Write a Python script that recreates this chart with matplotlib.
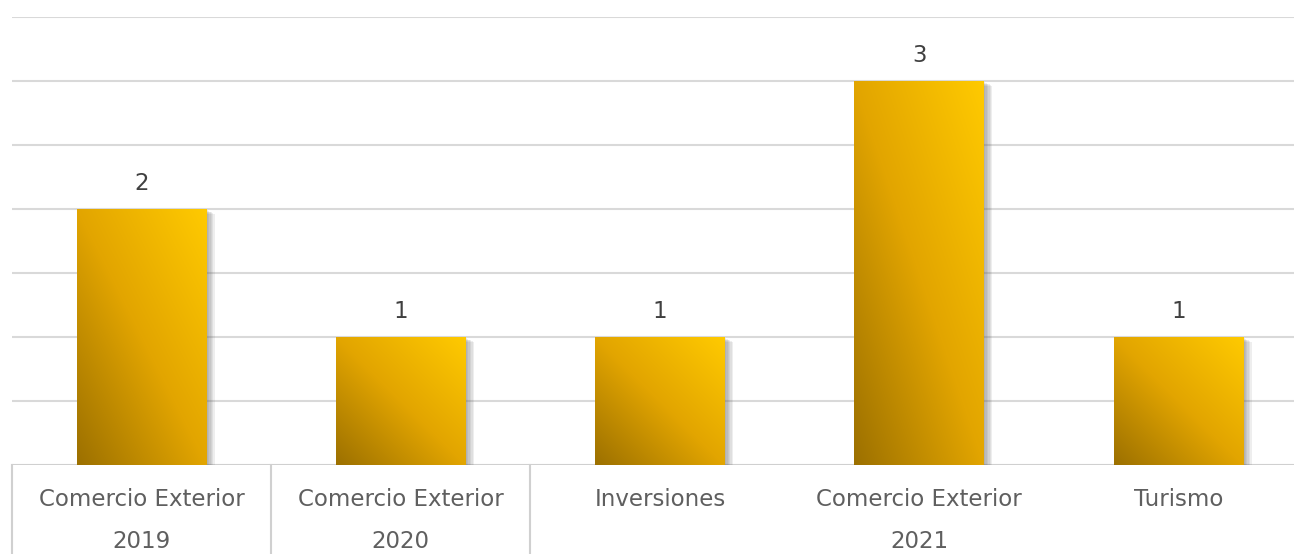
import numpy as np
import matplotlib.pyplot as plt
from matplotlib.colors import LinearSegmentedColormap
import matplotlib.patheffects as pe

# Data
categories = ['Comercio Exterior', 'Comercio Exterior', 'Inversiones', 'Comercio Exterior', 'Turismo']
years = ['2019', '2020', '2021']
year_groups = [1, 1, 3]  # number of categories per year
values = [2, 1, 1, 3, 1]

plt.rcParams['font.family'] = ['DejaVu Sans']

fig = plt.figure(figsize=(12.94, 5.54), dpi=100)
W, H = 1294, 554
# plot area: x from 12px, category width ~259px (right edge cropped), y 0 at 465px, 3.5 at 17px
ax = fig.add_axes([12 / W, (H - 465) / H, 1296 / W, (465 - 17) / H])

for y in np.arange(0.5, 3.51, 0.5):
    ax.axhline(y, color='#d9d9d9', lw=1.5, zorder=0)
ax.axhline(0, color='#d0d0d0', lw=1.5, zorder=0)

cmap = LinearSegmentedColormap.from_list('gold', ['#9c7000', '#e2a500', '#ffca00'])
grad = np.add.outer(np.linspace(0, 1, 200), np.linspace(0, 1, 200)) / 2  # rows: bottom->top

# soft shadow: several faint offset layers
shadow = [pe.SimplePatchShadow(offset=(d, -d * 0.6), shadow_rgbFace='#606060', alpha=0.1)
          for d in (1, 2, 3, 4, 5, 6)]

bw = 0.5
xs = np.arange(len(values)) + 0.5
bars = ax.bar(xs, values, width=bw, color='#e0a400', zorder=2,
              path_effects=shadow + [pe.Normal()])
for b, v in zip(bars, values):
    x0 = b.get_x()
    im = ax.imshow(grad, cmap=cmap, origin='lower', aspect='auto',
                   extent=(x0, x0 + bw, 0, v), zorder=3, interpolation='bilinear')
    im.set_clip_path(b)
    ax.text(b.get_x() + bw / 2, v + 0.11, str(v), ha='center', va='bottom',
            fontsize=16.5, color='#404040', zorder=4)

ax.set_xlim(0, len(values))
ax.set_ylim(0, 3.5)
for s in ax.spines.values():
    s.set_visible(False)
ax.set_xticks([])
ax.set_yticks([])

# multi-level category axis
tr = ax.get_xaxis_transform()
for i, c in enumerate(categories):
    ax.text(i + 0.5, -0.078, c, transform=tr, ha='center', va='center',
            fontsize=16.5, color='#5f5f5f', clip_on=False)
start = 0
seps = [0]
for yr, n in zip(years, year_groups):
    ax.text(start + n / 2, -0.17, yr, transform=tr, ha='center', va='center',
            fontsize=16.5, color='#5f5f5f', clip_on=False)
    start += n
    seps.append(start)
for s in seps[:-1]:
    ax.plot([s, s], [0, -0.25], transform=tr, color='#d0d0d0', lw=1.5, clip_on=False)

fig.savefig('out.png', dpi=100)
